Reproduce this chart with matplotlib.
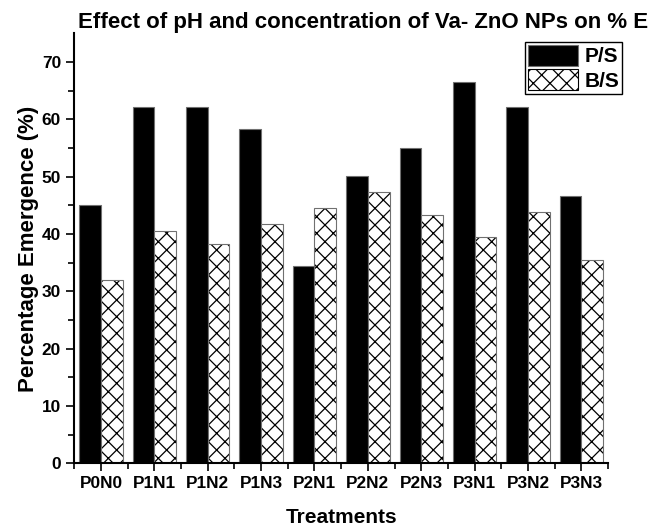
import matplotlib
matplotlib.use("Agg")
import matplotlib.pyplot as plt
from matplotlib.patches import Patch
import numpy as np

plt.rcParams['font.family'] = ['Liberation Sans', 'DejaVu Sans']
plt.rcParams['font.weight'] = 'bold'
plt.rcParams['hatch.linewidth'] = 0.9

treatments = ["P0N0", "P1N1", "P1N2", "P1N3", "P2N1", "P2N2", "P2N3", "P3N1", "P3N2", "P3N3"]
ps_values = [45.0, 62.1, 62.1, 58.4, 34.4, 50.2, 55.1, 66.5, 62.2, 46.7]
bs_values = [32.0, 40.6, 38.3, 41.8, 44.5, 47.4, 43.4, 39.5, 43.9, 35.4]
series_names = ["P/S", "B/S"]
yticks = [0, 10, 20, 30, 40, 50, 60, 70]

W, H = 654, 529
fig = plt.figure(figsize=(W / 100, H / 100), dpi=100)
ax = fig.add_axes([74.3 / W, 1 - 463.3 / H, (608.0 - 74.3) / W, (463.3 - 33.5) / H])

x = np.arange(len(treatments))
bw = 0.406
# P/S solid black bars
ax.bar(x - bw / 2, ps_values, width=bw, color='black', edgecolor='#707070', linewidth=0.8)
# B/S hatched bars: hatch in black, outline in gray
ax.bar(x + bw / 2, bs_values, width=bw, facecolor='white', edgecolor='black', hatch='xx', linewidth=0)
ax.bar(x + bw / 2, bs_values, width=bw, fill=False, edgecolor='#707070', linewidth=0.8)

ax.set_xlim(-0.5, len(treatments) - 0.5)
ax.set_ylim(0, 75)
ax.set_xticks(x)
ax.set_xticklabels(treatments, fontsize=12.4, fontweight='bold')
ax.set_xticks(np.arange(-0.5, len(treatments), 1.0), minor=True)
ax.set_yticks(yticks)
ax.set_yticklabels([str(v) for v in yticks], fontsize=12.4, fontweight='bold')
ax.set_yticks(np.arange(5, 75, 10), minor=True)
ax.tick_params(axis='both', which='major', direction='out', length=6, width=1.2, pad=3.5)
ax.tick_params(axis='both', which='minor', direction='out', length=4, width=1.2)

for s in ['top', 'right']:
    ax.spines[s].set_visible(False)
for s in ['left', 'bottom']:
    ax.spines[s].set_linewidth(1.5)

ax.set_ylabel("Percentage Emergence (%)", fontsize=16, fontweight='bold', labelpad=2)
ax.set_xlabel("Treatments", fontsize=15, fontweight='bold', labelpad=12)

fig.text(78.3 / W, 1 - 28.3 / H, "Effect of pH and concentration of Va- ZnO NPs on % E",
         ha='left', va='baseline', fontsize=16, fontweight='bold')

handles = [Patch(facecolor='black', edgecolor='#707070', linewidth=0.8),
           Patch(facecolor='white', edgecolor='black', hatch='xx', linewidth=0.8)]
leg = fig.legend(handles, series_names, loc='upper right',
                 bbox_to_anchor=(622.3 / W, 1 - 41.7 / H), borderaxespad=0,
                 prop={'size': 15, 'weight': 'bold'}, handlelength=2.4, handleheight=1.15,
                 handletextpad=0.3, labelspacing=0.15, borderpad=0.15,
                 fancybox=False, framealpha=1, edgecolor='black')
leg.get_frame().set_linewidth(1.0)

fig.savefig("out.png", dpi=100)
